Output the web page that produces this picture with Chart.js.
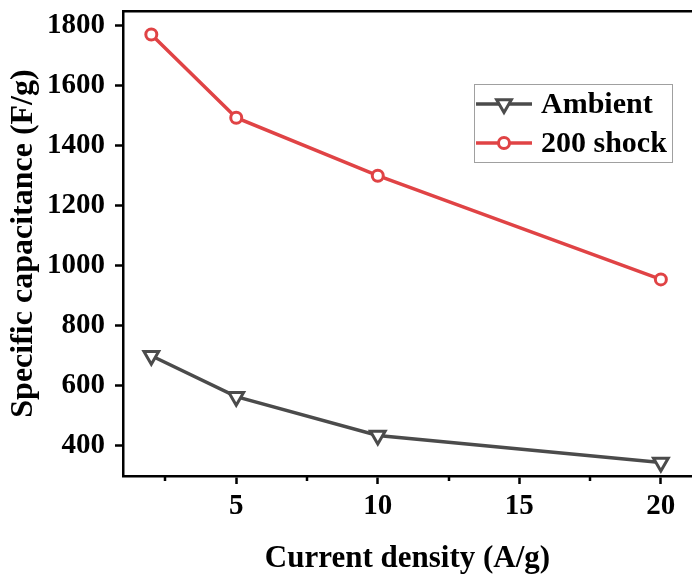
<!DOCTYPE html>
<html>
<head>
<meta charset="utf-8">
<script src="https://cdn.jsdelivr.net/npm/chart.js@4.4.1/dist/chart.umd.min.js"></script>
<style>
html,body{margin:0;padding:0;background:#fff;overflow:hidden;}
canvas{display:block;}
</style>
</head>
<body>
<canvas id="c" width="692" height="576"></canvas>
<script>
const currentDensity = [2, 5, 10, 20];
const ambientValues = [700, 564, 435, 345];
const shockValues = [1769, 1492, 1299, 954];
const seriesLabels = ['Ambient', '200 shock'];
const xTickValues = [5, 10, 15, 20];
const xMinorTickValues = [2.5, 7.5, 12.5, 17.5];
const yTickValues = [400, 600, 800, 1000, 1200, 1400, 1600, 1800];

const FONT = "'Liberation Serif', 'Times New Roman', serif";
const GRAY = '#4b4b4b';
const RED = '#e04345';

const toPoints = (xs, ys) => xs.map((x, i) => ({x: x, y: ys[i]}));
const noPad = s => { s.paddingTop = 0; s.paddingBottom = 0; s.paddingLeft = 0; s.paddingRight = 0; };

const minorTicks = {
  id: 'minorTicks',
  afterDraw(chart) {
    const ctx = chart.ctx, xs = chart.scales.x, area = chart.chartArea;
    ctx.save();
    ctx.strokeStyle = '#000';
    ctx.lineWidth = 2.5;
    xMinorTickValues.forEach(v => {
      const px = Math.round(xs.getPixelForValue(v));
      ctx.beginPath();
      ctx.moveTo(px, area.bottom);
      ctx.lineTo(px, area.bottom + 5);
      ctx.stroke();
    });
    ctx.restore();
  }
};

const boxLegend = {
  id: 'boxLegend',
  afterDraw(chart) {
    const ctx = chart.ctx;
    const bx = 474, by = 84, bw = 198, bh = 78;
    ctx.save();
    ctx.strokeStyle = '#a0a0a0';
    ctx.lineWidth = 1;
    ctx.strokeRect(bx + 0.5, by + 0.5, bw, bh);
    const rows = [104, 143];
    chart.data.datasets.forEach((ds, i) => {
      const y = rows[i];
      ctx.strokeStyle = ds.borderColor;
      ctx.lineWidth = ds.borderWidth;
      ctx.beginPath();
      ctx.moveTo(476, y);
      ctx.lineTo(532, y);
      ctx.stroke();
      ctx.fillStyle = ds.pointBackgroundColor;
      ctx.strokeStyle = ds.borderColor;
      ctx.lineWidth = ds.pointBorderWidth;
      ctx.beginPath();
      if (ds.pointStyle === 'circle') {
        ctx.arc(504, y, ds.pointRadius, 0, Math.PI * 2);
      } else {
        const r = ds.pointRadius;
        for (let k = 0; k < 3; k++) {
          const a = Math.PI + k * 2 * Math.PI / 3;
          const px = 504 + Math.sin(a) * r, py = y - Math.cos(a) * r;
          if (k === 0) ctx.moveTo(px, py); else ctx.lineTo(px, py);
        }
        ctx.closePath();
      }
      ctx.fill();
      ctx.stroke();
      ctx.fillStyle = '#000';
      ctx.font = "bold 30px " + FONT;
      ctx.textBaseline = 'middle';
      ctx.textAlign = 'left';
      ctx.fillText(ds.label, 541, y + 1);
    });
    ctx.restore();
  }
};

new Chart(document.getElementById('c'), {
  type: 'line',
  data: {
    datasets: [
      {
        label: seriesLabels[0],
        data: toPoints(currentDensity, ambientValues),
        borderColor: GRAY,
        borderWidth: 3.5,
        pointStyle: 'triangle',
        pointRotation: 180,
        pointRadius: 8.5,
        pointBorderWidth: 3,
        pointBackgroundColor: '#fff',
        pointBorderColor: GRAY,
        tension: 0
      },
      {
        label: seriesLabels[1],
        data: toPoints(currentDensity, shockValues),
        borderColor: RED,
        borderWidth: 3.5,
        pointStyle: 'circle',
        pointRadius: 5.5,
        pointBorderWidth: 3,
        pointBackgroundColor: '#fff',
        pointBorderColor: RED,
        tension: 0
      }
    ]
  },
  options: {
    responsive: false,
    devicePixelRatio: 1,
    animation: false,
    layout: {padding: 0, autoPadding: false},
    plugins: {legend: {display: false}, tooltip: {enabled: false}},
    scales: {
      x: {
        type: 'linear',
        position: 'bottom',
        min: 1,
        max: 21.1,
        afterBuildTicks: s => { s.ticks = xTickValues.map(v => ({value: v})); },
        afterFit: s => { s.height = 100; noPad(s); },
        grid: {drawOnChartArea: false, tickLength: 8, tickWidth: 2.5, tickColor: '#000'},
        border: {display: true, color: '#000', width: 2.5},
        ticks: {color: '#000', font: {family: FONT, size: 29, weight: 'bold'}, padding: 5, maxRotation: 0,
                callback: v => String(v)},
        title: {display: true, text: 'Current density (A/g)', color: '#000',
                font: {family: FONT, size: 31, weight: 'bold', lineHeight: 1.1}, padding: {top: 0, bottom: 0}}
      },
      xTop: {
        type: 'linear',
        position: 'top',
        min: 1,
        max: 21.1,
        afterFit: s => { s.height = 11; noPad(s); },
        grid: {display: false, drawTicks: false},
        border: {display: true, color: '#000', width: 2.5},
        ticks: {display: false}
      },
      y: {
        type: 'linear',
        position: 'left',
        min: 300,
        max: 1847,
        afterBuildTicks: s => { s.ticks = yTickValues.map(v => ({value: v})); },
        afterFit: s => { s.width = 123; noPad(s); },
        grid: {drawOnChartArea: false, tickLength: 8, tickWidth: 2.5, tickColor: '#000'},
        border: {display: true, color: '#000', width: 2.5},
        ticks: {color: '#000', font: {family: FONT, size: 29, weight: 'bold'}, padding: 10,
                callback: v => String(v)},
        title: {display: true, text: 'Specific capacitance (F/g)', color: '#000',
                font: {family: FONT, size: 32, weight: 'bold', lineHeight: 1.1}, padding: {top: 6, bottom: 0}}
      }
    }
  },
  plugins: [minorTicks, boxLegend]
});
</script>
</body>
</html>
